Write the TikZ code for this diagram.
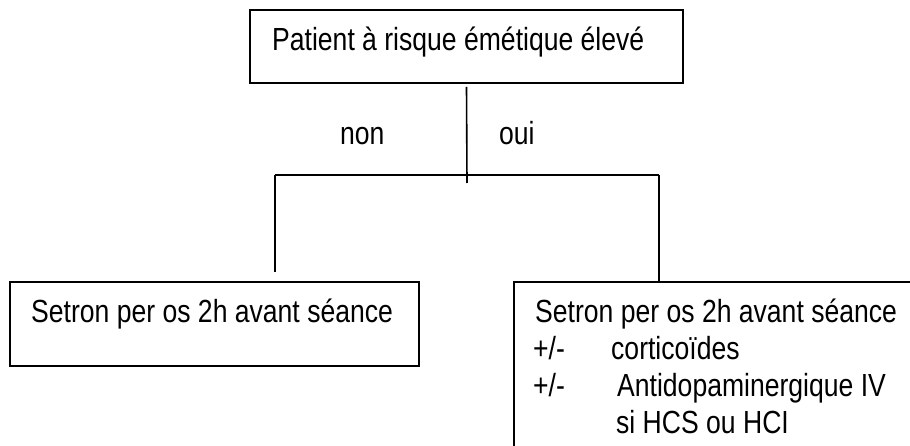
\documentclass[tikz,border=0pt]{standalone}
\usepackage{fontspec}
\setmainfont{Liberation Sans}[FakeStretch=0.83]
\begin{document}
\begin{tikzpicture}[x=1pt,y=-1pt,
  box/.style={draw=black,line width=1.8pt,rectangle,inner sep=0pt},
  conn/.style={draw=black,line width=1.6pt},
  txt/.style={inner sep=0pt,anchor=base west,font=\fontsize{32}{36.7}\selectfont}]
\useasboundingbox (0,0) rectangle (910,446);
\fill[white] (0,0) rectangle (910,446);
% boxes
\node[box,minimum width=433pt,minimum height=73pt] (top) at (466.5,46.5) {};
\node[box,minimum width=409pt,minimum height=84pt] (left) at (214.5,324) {};
\node[box,minimum width=410pt,minimum height=180pt] (right) at (719,372) {};
% texts
\node[txt] (ttop) at (272,51) {Patient à risque émétique élevé};
\node[txt] (tleft) at (31,323) {Setron per os 2h avant séance};
\node[txt] (tr1) at (535,322.7) {Setron per os 2h avant séance};
\node[txt] (tr2a) at (533,359.5) {+/-};
\node[txt] (tr2b) at (611,359.5) {corticoïdes};
\node[txt] (tr3a) at (533,396.5) {+/-};
\node[txt] (tr3b) at (617,396.5) {Antidopaminergique IV};
\node[txt] (tr4) at (616,433.3) {si HCS ou HCI};
\node[txt] (non) at (340,145) {non};
\node[txt] (oui) at (499,145) {oui};
% connectors
\coordinate (stemend) at (467,183);
\coordinate (jl) at (275,175);
\coordinate (jr) at (659,175);
\coordinate (lend) at (275,272);
\coordinate (rend) at (659,282);
\draw[conn] ([yshift=-3pt]top.south) -- (stemend);
\draw[conn] (jl) -- (jr);
\draw[conn] (jl) -- (lend);
\draw[conn] (jr) -- (rend);
\end{tikzpicture}
\end{document}
